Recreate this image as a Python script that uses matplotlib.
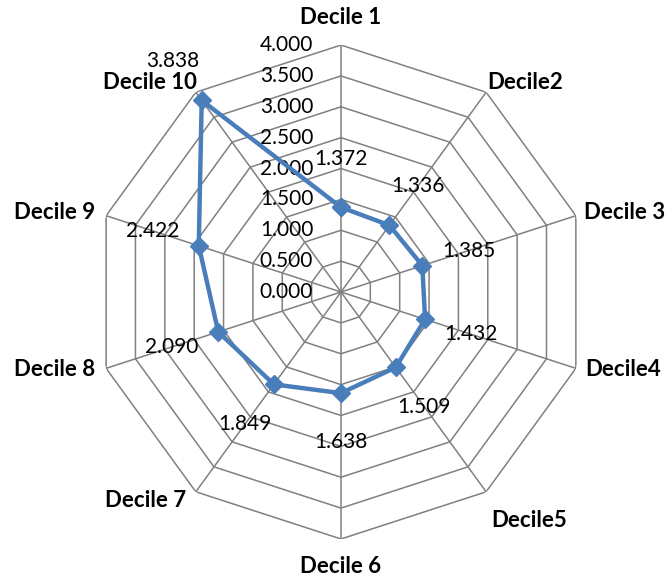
import numpy as np
import matplotlib
matplotlib.use("Agg")
import matplotlib.pyplot as plt

plt.rcParams['font.family'] = ['Lato', 'DejaVu Sans']

# decile means, clockwise from the top
categories = ['Decile 1', 'Decile2', 'Decile 3', 'Decile4', 'Decile5',
              'Decile 6', 'Decile 7', 'Decile 8', 'Decile 9', 'Decile 10']
values = [1.372, 1.336, 1.385, 1.432, 1.509, 1.638, 1.849, 2.090, 2.422, 3.838]
ring_levels = [0.0, 0.5, 1.0, 1.5, 2.0, 2.5, 3.0, 3.5, 4.0]

# category label placement (offset in points from outer vertex, alignment)
cat_offsets = [(0, 20), (1, 7), (6, 2), (7, -1), (4, -21),
               (0, -20), (-7, -6), (-8, -1), (-8, 2), (1, 7)]
cat_ha = ['center', 'left', 'left', 'left', 'left',
          'center', 'right', 'right', 'right', 'right']

grid_color = '#808080'
line_color = '#4A7EBB'

n = len(categories)
angles = np.arange(n) * 2 * np.pi / n
rmax = ring_levels[-1]

fig = plt.figure(figsize=(6.68, 5.77), dpi=100)
ax = fig.add_axes([0.1407, 0.0659, 0.7395, 0.856], projection='polar')
ax.set_theta_zero_location('N')
ax.set_theta_direction(-1)
ax.set_ylim(0, rmax)
ax.set_xticks([])
ax.set_yticks([])
ax.grid(False)
ax.spines['polar'].set_visible(False)
ax.patch.set_alpha(0)

# decagon rings and spokes
closed = np.append(angles, angles[0])
for lvl in ring_levels[1:]:
    ax.plot(closed, [lvl] * (n + 1), color=grid_color, lw=1.1, zorder=1)
for a in angles:
    ax.plot([a, a], [0, rmax], color=grid_color, lw=1.1, zorder=1)

# radial tick labels along the top spoke
for lvl in ring_levels:
    ax.annotate(f'{lvl:.3f}', xy=(0, lvl), xytext=(-20, 0),
                textcoords='offset points', ha='right', va='center',
                fontsize=15, color='#000000', zorder=2)

# data series
vals = np.append(values, values[0])
ax.plot(closed, vals, color=line_color, lw=3.2, marker='D', markersize=9,
        markerfacecolor=line_color, markeredgecolor=line_color, zorder=4)

# value labels pushed outward along each spoke
for a, v in zip(angles, values):
    dx = 35 * np.sin(a)
    dy = 35 * np.cos(a)
    ax.annotate(f'{v:.3f}', xy=(a, v), xytext=(dx, dy),
                textcoords='offset points', ha='center', va='center',
                fontsize=15, color='#000000', zorder=5)

# category labels
for a, lab, off, ha in zip(angles, categories, cat_offsets, cat_ha):
    ax.annotate(lab, xy=(a, rmax), xytext=off, textcoords='offset points',
                ha=ha, va='center', fontsize=16, fontweight='bold',
                color='#000000', annotation_clip=False)

fig.savefig('out.png', dpi=100)
